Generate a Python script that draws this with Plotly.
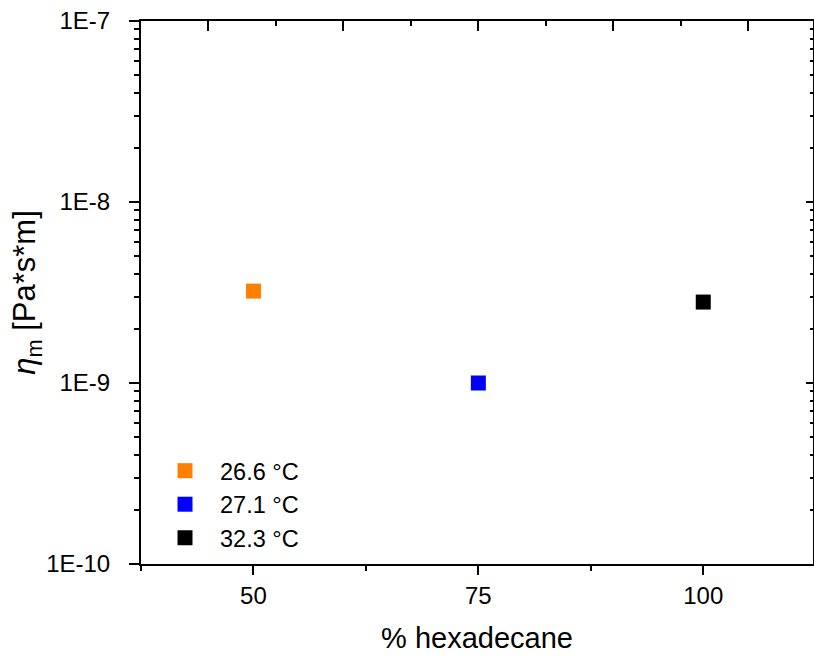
import plotly.graph_objects as go

# Data
series_names = ["26.6 °C", "27.1 °C", "32.3 °C"]
hexadecane_pct = [50, 75, 100]
eta_m = [3.22e-9, 1.0e-9, 2.80e-9]
colors = ["#FF8000", "#0000FF", "#000000"]

x_tickvals = [50, 75, 100]
x_ticktext = ["50", "75", "100"]
y_tickvals = [1e-10, 1e-9, 1e-8, 1e-7]
y_ticktext = ["1E-10", "1E-9", "1E-8", "1E-7"]

x_range = [37.5, 112.2]
y_range_log = [-10, -7]

FONT = "Liberation Sans, Arial, sans-serif"

minor_y = [k * 10.0 ** e for e in (-10, -9, -8) for k in range(2, 10)]

fig = go.Figure()
for i, (name, xv, yv, c) in enumerate(zip(series_names, hexadecane_pct, eta_m, colors)):
    fig.add_trace(go.Scatter(
        x=[xv], y=[yv], mode="markers", name=name,
        marker=dict(symbol="square", size=15, color=c, line=dict(width=0)),
    ))

# dummy trace for the opposite (top/right) axes
fig.add_trace(go.Scatter(x=[None], y=[None], xaxis="x2", yaxis="y2",
                         showlegend=False, hoverinfo="skip"))

fig.update_layout(
    width=814, height=659,
    margin=dict(l=141, r=1, t=21, b=95),
    plot_bgcolor="white", paper_bgcolor="white",
    font=dict(family=FONT, color="black", size=24),
    showlegend=True,
    legend=dict(
        x=0.0134, y=0.212, xanchor="left", yanchor="top",
        bgcolor="rgba(0,0,0,0)", font=dict(size=23.5, family=FONT),
        itemwidth=60,
    ),
    xaxis=dict(
        range=x_range, tickmode="array", tickvals=x_tickvals, ticktext=x_ticktext,
        ticks="outside", ticklen=9, tickwidth=2, tickcolor="black",
        showline=True, linewidth=2, linecolor="black",
        showgrid=False, zeroline=False,
        tickfont=dict(size=24),
        ticklabelstandoff=0,
        minor=dict(tickmode="array", tickvals=[37.5, 62.5, 87.5], ticks="outside",
                   ticklen=5, tickwidth=2, tickcolor="black", showgrid=False),
        title=dict(text="% hexadecane", font=dict(size=29), standoff=20),
    ),
    yaxis=dict(
        type="log", range=y_range_log, tickmode="array",
        tickvals=y_tickvals, ticktext=y_ticktext,
        ticks="outside", ticklen=10, tickwidth=2, tickcolor="black",
        showline=True, linewidth=2, linecolor="black",
        showgrid=False, zeroline=False,
        tickfont=dict(size=24),
        ticklabelstandoff=14,
        minor=dict(tickmode="array", tickvals=minor_y, ticks="outside",
                   ticklen=5, tickwidth=2, tickcolor="black", showgrid=False),
        title=dict(text="<i>η</i><sub>m</sub> [Pa*s*m]", font=dict(size=31), standoff=1),
    ),
    xaxis2=dict(
        overlaying="x", side="top", anchor="y", range=x_range,
        tick0=0, dtick=15, ticks="inside", ticklen=10, tickwidth=2, tickcolor="black",
        showticklabels=False, showline=True, linewidth=2, linecolor="black",
        showgrid=False, zeroline=False,
        minor=dict(tick0=0, dtick=7.5, ticks="inside", ticklen=5, tickwidth=2,
                   tickcolor="black", showgrid=False),
    ),
    yaxis2=dict(
        overlaying="y", side="right", anchor="x", type="log", range=y_range_log,
        tickmode="array", tickvals=y_tickvals,
        ticks="inside", ticklen=7, tickwidth=2, tickcolor="black",
        showticklabels=False, showline=True, linewidth=2, linecolor="black",
        showgrid=False, zeroline=False,
        minor=dict(tickmode="array", tickvals=minor_y, ticks="inside",
                   ticklen=3, tickwidth=2, tickcolor="black", showgrid=False),
    ),
)

fig.write_html("out.html")
